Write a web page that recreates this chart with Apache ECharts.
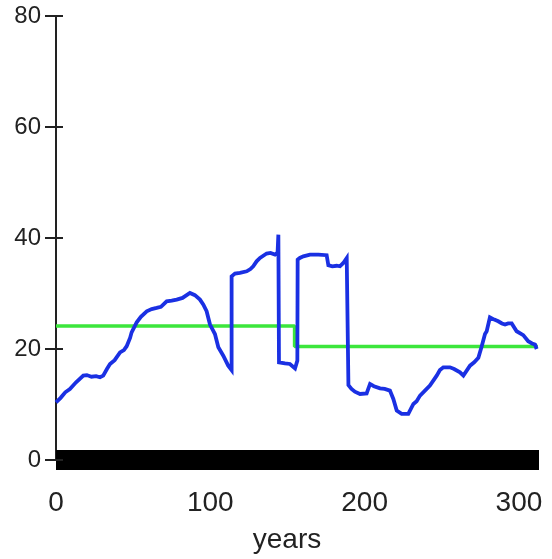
<!DOCTYPE html>
<html>
<head>
<meta charset="utf-8">
<title>years</title>
<script src="https://cdn.jsdelivr.net/npm/echarts@6/dist/echarts.min.js"></script>
<style>
  html, body { margin: 0; padding: 0; background: #fff; }
  #chart { width: 552px; height: 559px; }
</style>
</head>
<body>
<div id="chart"></div>
<script>
// Axis ranges and tick values
const xMin = 0;
const xMax = 313;
const xStep = 100;
const yMin = 0;
const yMax = 80;
const yStep = 20;
const xTitle = 'years';

// Simulated series (blue), [year, value]
const simYears = [
  0, 3, 6, 9, 13, 17.7, 20, 23, 26, 28.5, 30.6, 33, 35, 38, 41.5, 44, 45.8, 48, 49, 52.3,
  55, 58.8, 62, 65.2, 68, 71.7, 75, 78.2, 82, 86.8, 90, 93.3, 95.5, 97.6, 99.8, 101.5, 103, 105.2, 108.4, 111.6,
  113.8, 113.8, 116, 119.2, 123.6, 126, 127.8, 130, 132.2, 136.5, 139, 141.9, 143.6, 144.1, 144.5, 144.5,
  148.4, 151.6, 154.9, 156.4, 156.6, 158, 160.3, 164.6, 170, 175.4, 176.5, 179, 181.9, 184, 186.2, 188.4,
  189.5, 189.5, 191.5, 193.7, 197, 201.3, 203.5, 206, 210, 213, 216.4, 218.6, 220.8, 224, 228.3, 231.6,
  233.7, 235.9, 240.2, 242.3, 246.7, 248.8, 251, 255.3, 258, 261.8, 264, 265, 268.3, 271, 273.7, 275.8,
  278, 279.1, 281.2, 284, 286.6, 289, 291, 293, 295.3, 298.5, 302.8, 306, 308.5, 310.4, 311.5
];
const simValues = [
  10.4, 11.2, 12.2, 12.8, 14.0, 15.2, 15.3, 15.0, 15.1, 14.9, 15.2, 16.4, 17.3, 18.0, 19.4, 19.8, 20.5, 22.0, 23.0, 24.8,
  25.8, 26.8, 27.2, 27.4, 27.6, 28.6, 28.7, 28.9, 29.2, 30.1, 29.7, 28.9, 28.0, 26.8, 24.4, 23.5, 22.7, 20.3, 18.8, 17.0,
  16.2, 33.1, 33.6, 33.7, 34.0, 34.4, 34.9, 35.8, 36.4, 37.2, 37.3, 37.0, 37.4, 40.6, 40.6, 17.6,
  17.4, 17.3, 16.5, 17.9, 36.1, 36.4, 36.7, 37.0, 37.0, 36.9, 35.1, 34.9, 35.0, 34.9, 35.5, 36.4,
  36.1, 13.5, 12.8, 12.3, 11.9, 12.0, 13.7, 13.3, 12.9, 12.8, 12.5, 11.0, 8.9, 8.3, 8.3, 10.1,
  10.6, 11.6, 12.8, 13.4, 15.2, 16.2, 16.7, 16.7, 16.4, 15.8, 15.2, 15.3, 17.0, 17.6, 18.4, 20.4,
  22.7, 23.2, 25.7, 25.3, 25.0, 24.6, 24.4, 24.6, 24.6, 23.2, 22.5, 21.4, 21.0, 20.8, 20.0
];

// Period means (green step line)
const meanYears = [0, 154.6, 154.6, 312.3];
const meanValues = [24.14, 24.14, 20.44, 20.44];

const pairs = (xs, ys) => xs.map((x, i) => [x, ys[i]]);

const ink = '#222222';
const labelFont = 'Liberation Sans, Arial, sans-serif';

const chart = echarts.init(document.getElementById('chart'), null, { renderer: 'canvas' });

const yAxisBase = {
  type: 'value',
  min: yMin,
  max: yMax,
  interval: yStep,
  position: 'left',
  splitLine: { show: false },
  axisLine: { show: true, lineStyle: { color: ink, width: 2 } },
};

chart.setOption({
  animation: false,
  backgroundColor: '#ffffff',
  grid: { left: 56, right: 13, top: 16, bottom: 98, containLabel: false },
  xAxis: {
    type: 'value',
    min: xMin,
    max: xMax,
    interval: xStep,
    name: xTitle,
    nameLocation: 'middle',
    nameGap: 66,
    nameTextStyle: { color: ink, fontSize: 28, fontFamily: labelFont, padding: [0, 21, 0, 0] },
    splitLine: { show: false },
    axisTick: { show: false },
    axisLine: { show: true, lineStyle: { color: '#000000', width: 20, cap: 'butt' } },
    axisLabel: {
      color: ink, fontSize: 28, fontFamily: labelFont, margin: 29,
      showMaxLabel: false,
      formatter: v => (v % xStep === 0 ? String(v) : '')
    }
  },
  yAxis: [
    Object.assign({}, yAxisBase, {
      axisTick: { show: true, inside: false, length: 11, lineStyle: { color: ink, width: 2 } },
      axisLabel: { color: ink, fontSize: 24, fontFamily: labelFont, margin: 15 }
    }),
    Object.assign({}, yAxisBase, {
      offset: 0,
      axisTick: { show: true, inside: true, length: 7, lineStyle: { color: ink, width: 2 } },
      axisLabel: { show: false }
    })
  ],
  series: [
    {
      type: 'line',
      data: pairs(meanYears, meanValues),
      showSymbol: false,
      lineStyle: { color: '#3ce63c', width: 3.5 },
      z: 2
    },
    {
      type: 'line',
      data: pairs(simYears, simValues),
      showSymbol: false,
      lineStyle: { color: '#1a30e3', width: 3.8, join: 'miter' },
      z: 3
    }
  ]
});
</script>
</body>
</html>
